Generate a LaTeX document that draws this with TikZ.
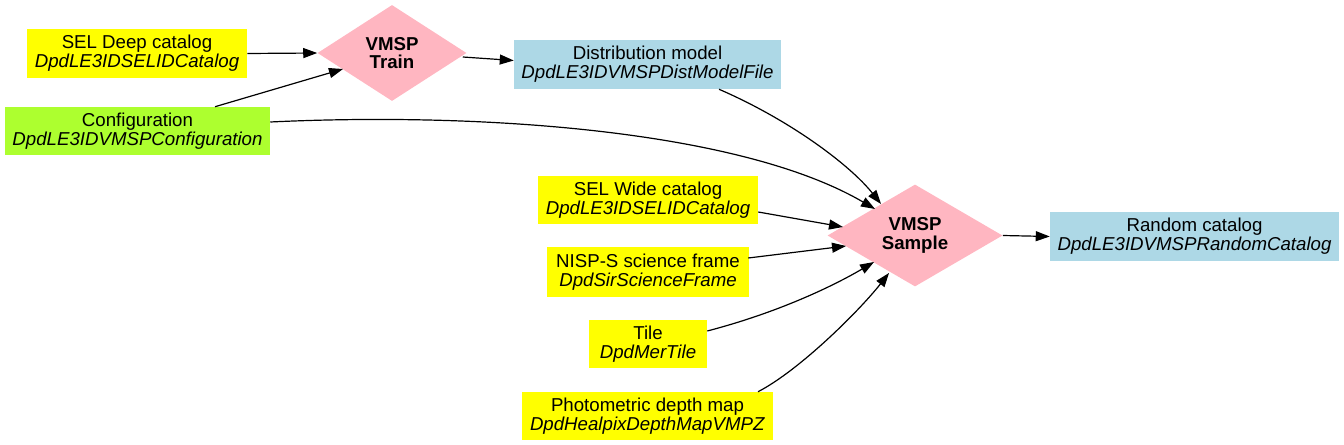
\documentclass[tikz,border=0pt]{standalone}
\usepackage{fontspec}
\setmainfont{Liberation Sans}
\usetikzlibrary{shapes.geometric,arrows.meta,calc}
\definecolor{cyel}{HTML}{FFFF00}
\definecolor{cgreen}{HTML}{ADFF2F}
\definecolor{cblue}{HTML}{ADD8E6}
\definecolor{cpink}{HTML}{FFB6C1}
\begin{document}
\begin{tikzpicture}[x=0.75pt,y=-0.75pt,
  every node/.style={font=\fontsize{14}{14}\selectfont, align=center, inner sep=0pt},
  databox/.style={rectangle, minimum height=36.75pt},
  yelbox/.style={databox, fill=cyel},
  greenbox/.style={databox, fill=cgreen},
  bluebox/.style={databox, fill=cblue},
  procbox/.style={diamond, fill=cpink, font=\fontsize{14}{14}\selectfont\bfseries},
  conn/.style={line width=0.9pt, -{Triangle[length=10.5pt,width=7.5pt]}}
]
\useasboundingbox (0,0) rectangle (1344,445);

\node[yelbox, minimum width=165pt] (deep) at (137,53.5) {SEL Deep catalog\\\textit{DpdLE3IDSELIDCatalog}};
\node[greenbox, minimum width=198.75pt, minimum height=36pt] (cfg) at (137.5,131) {Configuration\\\textit{DpdLE3IDVMSPConfiguration}};
\node[procbox, minimum width=111.75pt, minimum height=72pt] (train) at (392,53) {VMSP\\Train};
\node[bluebox, minimum width=200.25pt] (dist) at (647.5,64.5) {Distribution model\\\textit{DpdLE3IDVMSPDistModelFile}};
\node[yelbox, minimum width=165pt, minimum height=36pt] (wide) at (648,200) {SEL Wide catalog\\\textit{DpdLE3IDSELIDCatalog}};
\node[yelbox, minimum width=151.5pt, minimum height=37.5pt] (nisp) at (648,272) {NISP-S science frame\\\textit{DpdSirScienceFrame}};
\node[yelbox, minimum width=88.5pt, minimum height=36pt] (tile) at (648,344) {Tile\\\textit{DpdMerTile}};
\node[yelbox, minimum width=188.25pt, minimum height=36pt] (photo) at (647.5,416) {Photometric depth map\\\textit{DpdHealpixDepthMapVMPZ}};
\node[procbox, minimum width=131.25pt, minimum height=72.75pt] (sample) at (915,235.5) {VMSP\\Sample};
\node[bluebox, minimum width=216.75pt] (random) at (1194.5,236.5) {Random catalog\\\textit{DpdLE3IDVMSPRandomCatalog}};

\draw[conn] (deep.east) -- (train.west);
\draw[conn] ($(cfg.north)+(77.5,0)$) -- ($(train.center)+(-49,16)$);
\draw[conn] ($(train.east)+(-4,4)$) -- ($(dist.west)+(0,-4)$);
\draw[conn] ($(dist.south)+(71.5,0)$) .. controls (790,120) and (850,165) .. ($(sample.center)+(-34,-31.5)$);
\draw[conn] ($(cfg.east)+(0,-9)$) .. controls (480,112) and (740,130) .. ($(sample.center)+(-40,-26.5)$);
\draw[conn] ($(wide.east)+(0,12)$) -- ($(sample.center)+(-72,-8.5)$);
\draw[conn] ($(nisp.east)+(-1,-14)$) -- ($(sample.center)+(-69,10.5)$);
\draw[conn] ($(tile.east)+(0,-13)$) .. controls (780,312) and (835,285) .. ($(sample.center)+(-41,26.5)$);
\draw[conn] ($(photo.north)+(110.5,0)$) .. controls (800,370) and (860,310) .. ($(sample.center)+(-26,37.5)$);
\draw[conn] (sample.east) -- (random.west);
\end{tikzpicture}
\end{document}
